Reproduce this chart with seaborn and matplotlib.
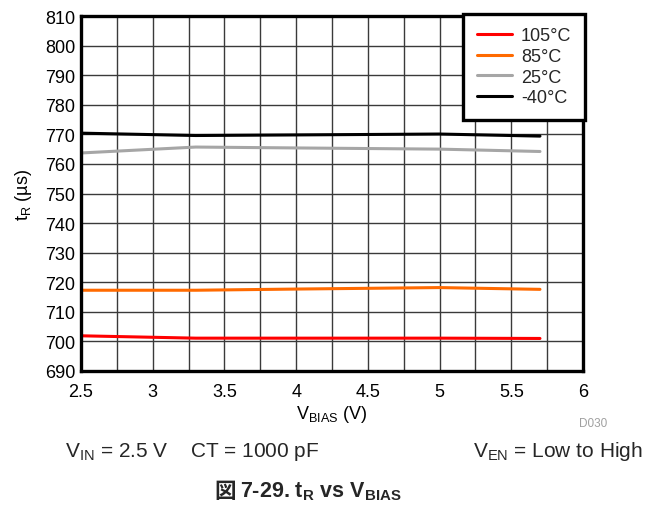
import matplotlib
matplotlib.use("Agg")
import matplotlib.pyplot as plt
import seaborn as sns
import pandas as pd

# Rise time vs bias voltage, per temperature
v_bias = [2.5, 3.3, 4.0, 5.0, 5.7]
t_105c = [701.9, 701.1, 701.1, 701.1, 701.0]
t_85c = [717.3, 717.3, 717.7, 718.2, 717.6]
t_25c = [763.7, 765.7, 765.4, 765.0, 764.2]
t_m40c = [770.4, 769.6, 769.8, 770.1, 769.4]

series_names = ["105°C", "85°C", "25°C", "-40°C"]
series_colors = ["#ff0000", "#ff6a00", "#a6a6a6", "#000000"]

x_ticks = [2.5, 3, 3.5, 4, 4.5, 5, 5.5, 6]
x_tick_labels = ["2.5", "3", "3.5", "4", "4.5", "5", "5.5", "6"]
y_ticks = list(range(690, 811, 10))

sns.set_theme(style="white")
plt.rcParams["font.family"] = ["Liberation Sans", "Noto Sans CJK JP"]
plt.rcParams["mathtext.fontset"] = "custom"
plt.rcParams["mathtext.rm"] = "Liberation Sans"
plt.rcParams["mathtext.it"] = "Liberation Sans:italic"
plt.rcParams["mathtext.bf"] = "Liberation Sans:bold"
plt.rcParams["mathtext.default"] = "rm"

frames = []
for name, vals in zip(series_names, [t_105c, t_85c, t_25c, t_m40c]):
    frames.append(pd.DataFrame({"V": v_bias, "t": vals, "T": name}))
df = pd.concat(frames, ignore_index=True)

fig = plt.figure(figsize=(6.45, 5.10), dpi=100)
ax = fig.add_axes([81 / 645, 1 - 372 / 510, (583 - 81) / 645, (372 - 17) / 510])

sns.lineplot(data=df, x="V", y="t", hue="T", hue_order=series_names,
             palette=series_colors, linewidth=2.2, ax=ax, legend=True)

ax.set_xlim(2.5, 6)
ax.set_ylim(690, 810)
ax.set_xticks([2.5 + 0.25 * i for i in range(15)], minor=True)
ax.set_xticks(x_ticks)
ax.set_xticklabels(x_tick_labels)
ax.set_yticks(y_ticks)
ax.grid(True, which="both", axis="x", color="#3a3a3a", linewidth=1.0)
ax.grid(True, which="major", axis="y", color="#3a3a3a", linewidth=1.0)
ax.set_axisbelow(True)
ax.tick_params(axis="both", which="both", length=0, labelsize=13, colors="black")
ax.tick_params(axis="x", pad=9)
ax.tick_params(axis="y", pad=4)
for sp in ax.spines.values():
    sp.set_visible(True)
    sp.set_color("black")
    sp.set_linewidth(2.4)

ax.set_xlabel("V$_{BIAS}$ (V)", fontsize=13, labelpad=2, color="black")
ax.set_ylabel("t$_{R}$ (µs)", fontsize=13, labelpad=8, color="black")

leg = ax.legend(loc="upper right", bbox_to_anchor=(1.004, 1.006), fontsize=13,
                frameon=True, fancybox=False, handlelength=1.95, handletextpad=0.5,
                borderpad=0.75, labelspacing=0.2, borderaxespad=0, title=None)
leg.get_frame().set_edgecolor("black")
leg.get_frame().set_linewidth(2.4)
leg.get_frame().set_alpha(1)
for line in leg.get_lines():
    line.set_linewidth(2.2)

fig.text(593 / 645, 1 - 424 / 510, "D030", fontsize=8.5, color="#a0a0a0", ha="center", va="center")
fig.text(65 / 645, 1 - 452 / 510, "V$_{IN}$ = 2.5 V    CT = 1000 pF", fontsize=15,
         ha="left", va="center")
fig.text(643 / 645, 1 - 452 / 510, "V$_{EN}$ = Low to High", fontsize=15,
         ha="right", va="center")

# Figure caption: CJK glyph drawn separately, then the bold title
fig.text(214 / 645, 1 - 492 / 510, "図", fontsize=15.5, fontweight="bold",
         ha="left", va="center", family=["Noto Sans CJK JP"])
fig.text(240 / 645, 1 - 492 / 510, "7-29. t$_{\\mathbf{R}}$ vs V$_{\\mathbf{BIAS}}$",
         fontsize=15.5, fontweight="bold", ha="left", va="center")

fig.savefig("out.png", dpi=100)
